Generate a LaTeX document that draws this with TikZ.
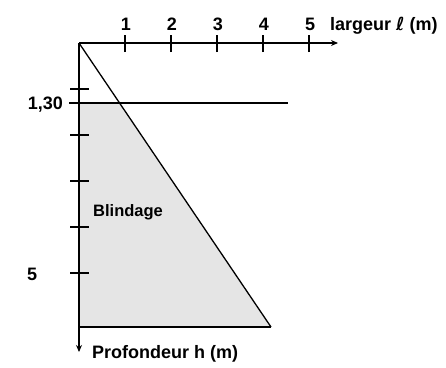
\documentclass[tikz,border=0pt]{standalone}
\usepackage{fontspec}
\usetikzlibrary{arrows.meta}
\setmainfont{Liberation Sans}
\newfontfamily\symfont{DejaVu Sans}
\begin{document}
\begin{tikzpicture}[x=1pt,y=-1pt,
  axis/.style={line width=1.4pt,-{Stealth[length=7pt,width=6pt]}},
  edge/.style={line width=1.3pt},
  tick/.style={line width=1.2pt},
  lbl/.style={font=\fontsize{18}{20}\selectfont\bfseries, inner sep=0pt},
  shade/.style={fill=black!10}]
\useasboundingbox (0,0) rectangle (446,367);
\coordinate (O) at (79,43);
\coordinate (A) at (79,103);
\coordinate (Abig) at (288,103);
\coordinate (D) at (119.6,103);
\coordinate (B) at (79,327);
\coordinate (C) at (271,327);
\coordinate (Xend) at (338,43);
\coordinate (Yend) at (79,352);
\fill[shade] (A) -- (D) -- (C) -- (B) -- cycle;
\draw[edge] (A) -- (Abig);
\draw[edge] (B) -- (C);
\draw[edge] (O) -- (C);
\draw[axis] (O) -- (Xend);
\draw[axis] (O) -- (Yend);
\foreach \i in {1,...,5} {
  \coordinate (xt\i) at (79+46*\i,43);
  \draw[tick] ([yshift=-9pt]xt\i) -- ([yshift=8pt]xt\i);
  \node[lbl] (xl\i) at (80+46*\i,24) {\i};
  \coordinate (yt\i) at (79,43+46*\i);
  \draw[tick] ([xshift=-9pt]yt\i) -- ([xshift=10pt]yt\i);
}
\draw[tick] ([xshift=-10pt]A) -- (A);
\node[lbl, anchor=base west] (xlab) at (330,30) {largeur {\symfont\itshape ℓ} (m)};
\node[lbl, anchor=east] (l130) at (63,105) {1,30};
\node[lbl, anchor=west] (l5) at (27,274) {5};
\node[lbl, anchor=west, font=\fontsize{16.5}{20}\selectfont\bfseries] (bl) at (93,212) {Blindage};
\node[lbl, anchor=west] (ylab) at (92,354) {Profondeur h (m)};
\end{tikzpicture}
\end{document}
